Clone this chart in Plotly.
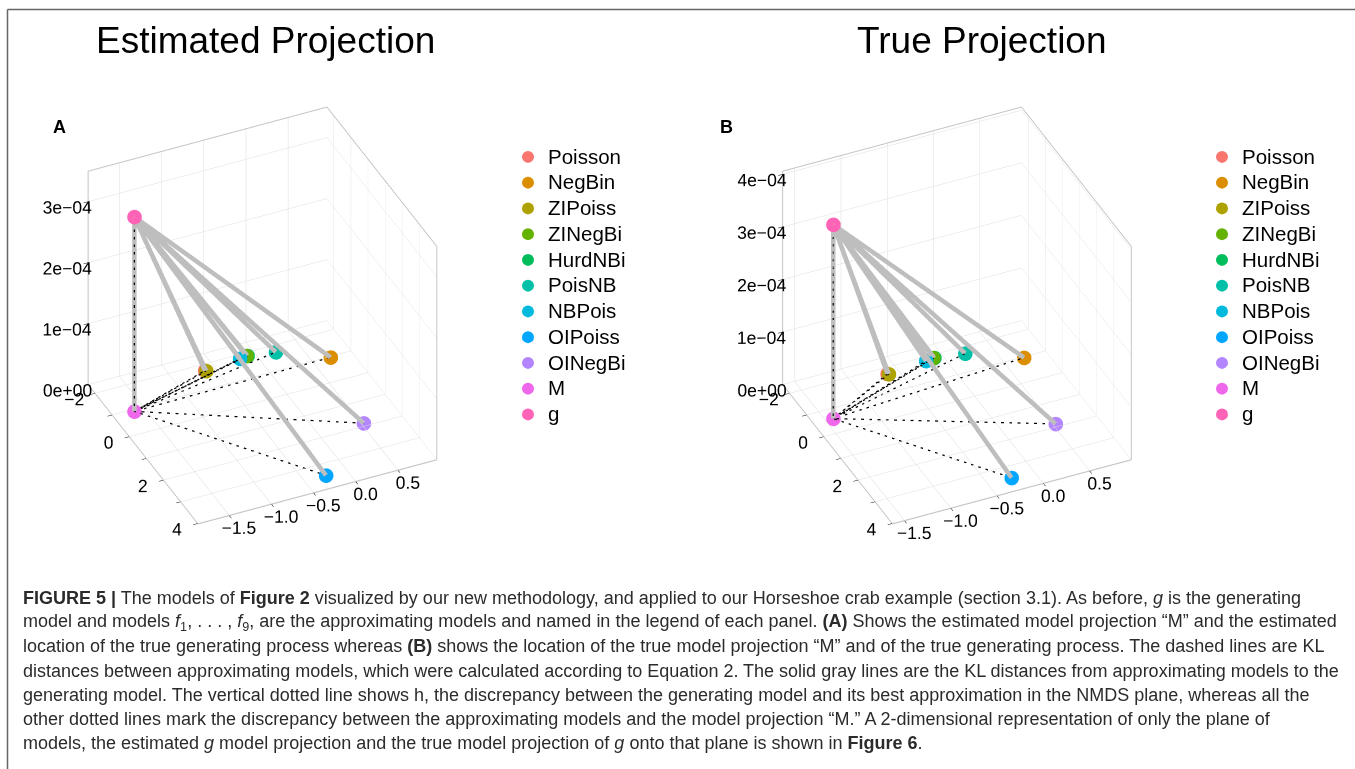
import math
import plotly.graph_objects as go

# ---------------- data ----------------
models = ["Poisson", "NegBin", "ZIPoiss", "ZINegBi", "HurdNBi", "PoisNB", "NBPois", "OIPoiss", "OINegBi"]
model_colors = ["#F8766D", "#DB8E00", "#AEA200", "#64B200", "#00BD5C", "#00C1A7", "#00BADE", "#00A6FF", "#B385FF"]
m_color = "#EF67EB"
g_color = "#FF63B6"

# NMDS coordinates of the approximating models (plane z = 0)
model_x = [-1.74, -0.96, -1.716, -1.88, -1.87, -1.72, -1.84, 3.48, 1.88]
model_y = [-0.62, 0.712, -0.61, -0.10, -0.09, 0.216, -0.185, -0.244, 0.528]
model_z = [0, 0, 0, 0, 0, 0, 0, 0, 0]

# panel A: estimated projection
est_M = [-0.91, -1.625, 0.0]
est_g = [-0.91, -1.625, 3.19e-4]
# panel B: true projection
true_M = [-0.59, -1.418, 0.0]
true_g = [-0.59, -1.418, 3.69e-4]

x_tickvals = [-2, -1, 0, 1, 2, 3, 4]
x_ticktext = ["\u22122", "", "0", "", "2", "", "4"]
y_tickvals = [-1.5, -1.0, -0.5, 0.0, 0.5]
y_ticktext = ["\u22121.5", "\u22121.0", "\u22120.5", "0.0", "0.5"]
zA_tickvals = [0, 1e-4, 2e-4, 3e-4]
zA_ticktext = ["0e+00", "1e\u221204", "2e\u221204", "3e\u221204"]
zB_tickvals = [0, 1e-4, 2e-4, 3e-4, 4e-4]
zB_ticktext = ["0e+00", "1e\u221204", "2e\u221204", "3e\u221204", "4e\u221204"]

rangeA = dict(x=[-2.4, 4.02], y=[-1.87, 0.96], z=[0, 3.5e-4])
rangeB = dict(x=[-2.4, 4.02], y=[-1.63, 0.95], z=[0, 4.06e-4])

FONT = "Liberation Sans, Arial, sans-serif"

fig = go.Figure()


def add_panel(scene, legend, M, g):
    # solid gray lines from g to every model and to M
    lx, ly, lz = [], [], []
    for x, y, z in list(zip(model_x, model_y, model_z)) + [(M[0], M[1], M[2])]:
        lx += [g[0], x, None]
        ly += [g[1], y, None]
        lz += [g[2], z, None]
    fig.add_trace(go.Scatter3d(x=lx, y=ly, z=lz, mode="lines", scene=scene,
                               line=dict(color="rgb(190,190,190)", width=9),
                               showlegend=False, hoverinfo="skip"))
    # dashed black lines from M to every model and to g
    dx, dy, dz = [], [], []
    for x, y, z in list(zip(model_x, model_y, model_z)) + [(g[0], g[1], g[2])]:
        dx += [M[0], x, None]
        dy += [M[1], y, None]
        dz += [M[2], z, None]
    fig.add_trace(go.Scatter3d(x=dx, y=dy, z=dz, mode="lines", scene=scene,
                               line=dict(color="black", width=2.5, dash="dot"),
                               showlegend=False, hoverinfo="skip"))
    # points
    names = models + ["M", "g"]
    cols = model_colors + [m_color, g_color]
    xs = model_x + [M[0], g[0]]
    ys = model_y + [M[1], g[1]]
    zs = model_z + [M[2], g[2]]
    for name, c, x, y, z in zip(names, cols, xs, ys, zs):
        fig.add_trace(go.Scatter3d(x=[x], y=[y], z=[z], mode="markers",
                                   name='<span style="font-size:20.5px">%s</span>' % name,
                                   scene=scene, legend=legend,
                                   marker=dict(color=c, size=8.5, line=dict(width=0))))


add_panel("scene", "legend", est_M, est_g)
add_panel("scene2", "legend2", true_M, true_g)


def axis(rng, tv, tt):
    return dict(range=rng, autorange=False, tickmode="array", tickvals=tv, ticktext=tt,
                title=dict(text=""), showgrid=True, gridcolor="rgb(222,222,222)", gridwidth=1,
                showline=True, linecolor="rgb(195,195,195)", linewidth=2, mirror=True,
                ticks="outside", tickcolor="black", ticklen=5, tickwidth=1, tickangle=0.01,
                tickfont=dict(family=FONT, size=14.5, color="black"),
                showbackground=False, zeroline=False, showspikes=False)


elev = math.radians(35.7)
ratio = 0.46
h = math.cos(elev)
ex = h / math.sqrt(1 + ratio ** 2)
eye_dir = (ex, -ratio * ex, math.sin(elev))
camera = dict(eye=dict(x=2 * eye_dir[0], y=2 * eye_dir[1], z=2 * eye_dir[2]),
              up=dict(x=0, y=0, z=1), center=dict(x=0, y=0, z=0),
              projection=dict(type="orthographic"))

W, H = 1355, 769
dom_y = [1 - 576 / H, 1 - 55 / H]
box = 1.009


def scene_layout(domx, rng, ztv, ztt):
    return dict(domain=dict(x=domx, y=dom_y),
                xaxis=axis(rng["x"], x_tickvals, x_ticktext),
                yaxis=axis(rng["y"], y_tickvals, y_ticktext),
                zaxis=axis(rng["z"], ztv, ztt),
                aspectmode="manual", aspectratio=dict(x=box, y=box, z=box),
                camera=camera, bgcolor="rgba(0,0,0,0)")


caption = [
    "<b>FIGURE 5 |</b> The models of <b>Figure 2</b> visualized by our new methodology, and applied to our Horseshoe crab example (section 3.1). As before, <i>g</i> is the generating",
    "model and models <i>f</i><sub>1</sub>, . . . , <i>f</i><sub>9</sub>, are the approximating models and named in the legend of each panel. <b>(A)</b> Shows the estimated model projection \u201cM\u201d and the estimated",
    "location of the true generating process whereas <b>(B)</b> shows the location of the true model projection \u201cM\u201d and of the true generating process. The dashed lines are KL",
    "distances between approximating models, which were calculated according to Equation 2. The solid gray lines are the KL distances from approximating models to the",
    "generating model. The vertical dotted line shows h, the discrepancy between the generating model and its best approximation in the NMDS plane, whereas all the",
    "other dotted lines mark the discrepancy between the approximating models and the model projection \u201cM.\u201d A 2-dimensional representation of only the plane of",
    "models, the estimated <i>g</i> model projection and the true model projection of <i>g</i> onto that plane is shown in <b>Figure 6</b>.",
]

annotations = [
    dict(text="Estimated Projection", x=265 / W, y=1 - 40 / H, xref="paper", yref="paper",
         showarrow=False, xanchor="center", yanchor="middle", font=dict(family=FONT, size=37, color="black")),
    dict(text="True Projection", x=982 / W, y=1 - 40 / H, xref="paper", yref="paper",
         showarrow=False, xanchor="center", yanchor="middle", font=dict(family=FONT, size=37, color="black")),
    dict(text="<b>A</b>", x=60 / W, y=1 - 127 / H, xref="paper", yref="paper",
         showarrow=False, xanchor="center", yanchor="middle", font=dict(family=FONT, size=18, color="black")),
    dict(text="<b>B</b>", x=727 / W, y=1 - 127 / H, xref="paper", yref="paper",
         showarrow=False, xanchor="center", yanchor="middle", font=dict(family=FONT, size=18, color="black")),
]
for i, line in enumerate(caption):
    annotations.append(dict(text=line, x=21 / W, y=1 - (598 + 24.2 * i) / H, xref="paper", yref="paper",
                            showarrow=False, xanchor="left", yanchor="middle", align="left",
                            font=dict(family=FONT, size=18.0, color="#2b2b2b")))

shapes = [
    dict(type="line", xref="paper", yref="paper", x0=7.5 / W, x1=7.5 / W, y0=1 - 9.5 / H, y1=-0.05,
         line=dict(color="#666666", width=1.5)),
    dict(type="line", xref="paper", yref="paper", x0=7.5 / W, x1=1.05, y0=1 - 9.5 / H, y1=1 - 9.5 / H,
         line=dict(color="#666666", width=1.5)),
]

leg = dict(xanchor="left", yanchor="top", bgcolor="rgba(0,0,0,0)",
           font=dict(family=FONT, size=17.5, color="black"), itemsizing="constant")

fig.update_layout(
    width=W, height=H, margin=dict(l=0, r=0, t=0, b=0),
    paper_bgcolor="white", plot_bgcolor="white",
    scene=scene_layout([0.0, 0.3875], rangeA, zA_tickvals, zA_ticktext),
    scene2=scene_layout([0.513, 0.9], rangeB, zB_tickvals, zB_ticktext),
    legend=dict(leg, x=508 / W, y=1 - 139 / H),
    legend2=dict(leg, x=1202 / W, y=1 - 139 / H),
    annotations=annotations, shapes=shapes,
)

fig.write_html("out.html")
